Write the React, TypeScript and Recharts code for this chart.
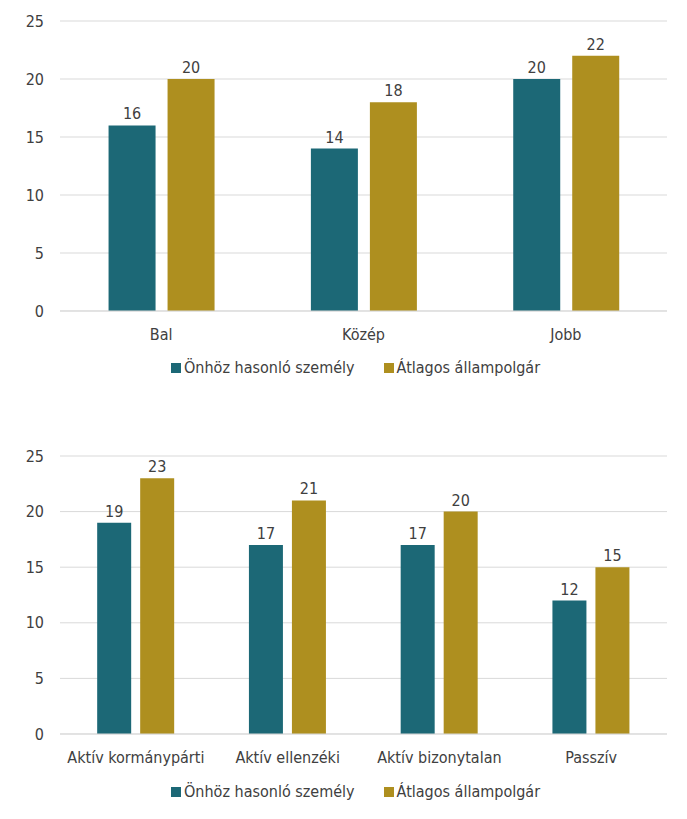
import React from "react";
import { BarChart, Bar, XAxis, YAxis, CartesianGrid, Legend, LabelList } from "recharts";

const categories1 = ["Bal", "Közép", "Jobb"];
const similar1 = [16, 14, 20];
const average1 = [20, 18, 22];

const categories2 = ["Aktív kormánypárti", "Aktív ellenzéki", "Aktív bizonytalan", "Passzív"];
const similar2 = [19, 17, 17, 12];
const average2 = [23, 21, 20, 15];

const yTicks = [0, 5, 10, 15, 20, 25];
const seriesNames = ["Önhöz hasonló személy", "Átlagos állampolgár"];

const TEAL = "#1c6876";
const GOLD = "#ae8f1f";
const TEXT = "#404040";
const FONT = "'DejaVu Sans Condensed', Lato, sans-serif";

const build = (cats: string[], a: number[], b: number[]) =>
  cats.map((c, i) => ({ name: c, a: a[i], b: b[i] }));

const data1 = build(categories1, similar1, average1);
const data2 = build(categories2, similar2, average2);

const renderLegend = (props: any) => {
  const payload = props.payload || [];
  return (
    <div style={{ display: "flex", paddingLeft: 171, fontFamily: FONT, fontSize: 16, color: TEXT, lineHeight: "20px" }}>
      {payload.map((p: any, i: number) => (
        <div key={i} style={{ display: "flex", alignItems: "center", marginRight: 29 }}>
          <span style={{ display: "inline-block", width: 10, height: 10, background: p.color, marginRight: 3 }} />
          <span>{p.value}</span>
        </div>
      ))}
    </div>
  );
};

function Chart({ data, height, top, gap, barGap, legendTop }: any) {
  return (
    <BarChart
      width={687}
      height={height}
      data={data}
      margin={{ top, right: 20, left: 0, bottom: 0 }}
      barCategoryGap={gap}
      barGap={barGap}
      style={{ fontFamily: FONT }}
    >
      <CartesianGrid vertical={false} stroke="#d9d9d9" />
      <XAxis
        dataKey="name"
        axisLine={{ stroke: "#d9d9d9" }}
        tickLine={false}
        tickMargin={12}
        tick={{ fill: TEXT, fontSize: 16 }}
        height={40}
      />
      <YAxis
        domain={[0, 25]}
        ticks={yTicks}
        axisLine={false}
        tickLine={false}
        width={60}
        tickMargin={10}
        tick={{ fill: TEXT, fontSize: 16 }}
        interval={0}
      />
      <Legend
        itemSorter="dataKey"
        content={renderLegend}
        wrapperStyle={{ top: legendTop, left: 0, width: 687 }}
      />
      <Bar dataKey="a" name={seriesNames[0]} fill={TEAL} isAnimationActive={false}>
        <LabelList dataKey="a" position="top" offset={6} fill={TEXT} fontSize={16} />
      </Bar>
      <Bar dataKey="b" name={seriesNames[1]} fill={GOLD} isAnimationActive={false}>
        <LabelList dataKey="b" position="top" offset={6} fill={TEXT} fontSize={16} />
      </Bar>
    </BarChart>
  );
}

export default function App() {
  return (
    <div style={{ position: "absolute", left: 0, top: 0, width: 687, height: 819, background: "#fff" }}>
      <div style={{ position: "absolute", left: 0, top: 0 }}>
        <Chart data={data1} height={371} top={21} gap="24%" barGap={12} legendTop={358} />
      </div>
      <div style={{ position: "absolute", left: 0, top: 420 }}>
        <Chart data={data2} height={374} top={36} gap="24.5%" barGap={9} legendTop={362} />
      </div>
    </div>
  );
}
